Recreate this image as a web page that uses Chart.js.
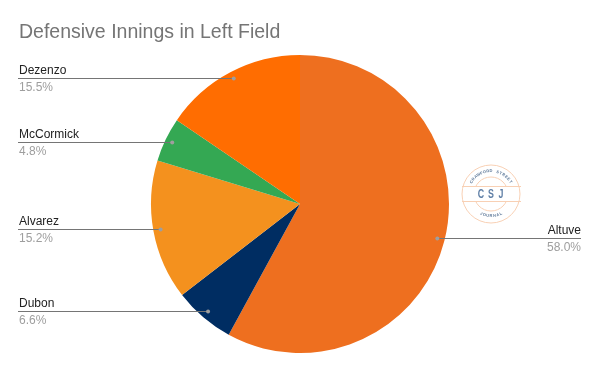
<!DOCTYPE html>
<html>
<head>
<meta charset="utf-8">
<script src="https://cdn.jsdelivr.net/npm/chart.js@4"></script>
<style>
  html, body { margin: 0; padding: 0; background: #fff; }
  canvas { display: block; }
</style>
</head>
<body>
<canvas id="pie" width="600" height="371"></canvas>
<script>
const players = ['Altuve', 'Dubon', 'Alvarez', 'McCormick', 'Dezenzo'];
const innings = [58.0, 6.6, 15.2, 4.8, 15.5];
const colors = ['#ee6f1f', '#002d62', '#f4911e', '#34a853', '#ff6d01'];
const chartTitle = 'Defensive Innings in Left Field';
const FONT = '"Liberation Sans", Arial, sans-serif';

// leader lines + labels, hung off the arcs
const leaderLabels = {
  id: 'leaderLabels',
  afterDatasetsDraw(chart) {
    const ctx = chart.ctx;
    ctx.save();
    ctx.fillStyle = '#757575';
    ctx.font = '19.5px ' + FONT;
    ctx.textAlign = 'left';
    ctx.textBaseline = 'alphabetic';
    ctx.fillText(chartTitle, 19, 38);

    chart.getDatasetMeta(0).data.forEach((arc, i) => {
      const mid = (arc.startAngle + arc.endAngle) / 2;
      const r = arc.outerRadius * 0.951;
      const px = arc.x + Math.cos(mid) * r;
      const row = Math.floor(arc.y - 0.5 + Math.sin(mid) * r + 0.4);
      const py = row + 0.5;
      const right = Math.cos(mid) > 0;
      const edge = right ? 581 : 18;

      ctx.strokeStyle = '#757575';
      ctx.lineWidth = 1;
      ctx.beginPath();
      ctx.moveTo(edge, py);
      ctx.lineTo(px, py);
      ctx.stroke();

      ctx.fillStyle = '#9e9e9e';
      ctx.beginPath();
      ctx.arc(px, py, 2, 0, Math.PI * 2);
      ctx.fill();

      ctx.textAlign = right ? 'right' : 'left';
      ctx.font = '12px ' + FONT;
      ctx.fillStyle = '#222222';
      ctx.fillText(players[i], right ? edge : edge + 1, row - 4);
      ctx.fillStyle = '#9e9e9e';
      ctx.fillText(innings[i].toFixed(1) + '%', right ? edge : edge + 1, row + 13);
    });
    ctx.restore();
  }
};

// CSJ stamp to the right of the pie
const stamp = {
  id: 'stamp',
  afterDraw(chart) {
    const ctx = chart.ctx;
    const cx = 491, cy = 194;
    ctx.save();
    ctx.strokeStyle = '#f8d0b4';
    ctx.lineWidth = 1;
    // inner ring first, the band covers its middle
    ctx.beginPath();
    ctx.arc(cx, cy, 17, 0, Math.PI * 2);
    ctx.stroke();
    ctx.fillStyle = '#ffffff';
    ctx.fillRect(cx - 28, cy - 8, 56, 16);
    ctx.beginPath();
    ctx.arc(cx, cy, 29, 0, Math.PI * 2);
    ctx.moveTo(cx - 29, cy - 7.5); ctx.lineTo(cx + 30, cy - 7.5);
    ctx.moveTo(cx - 29, cy + 7.5); ctx.lineTo(cx + 30, cy + 7.5);
    ctx.stroke();

    ctx.fillStyle = '#5f7fa6';
    ctx.textAlign = 'center';
    ctx.textBaseline = 'middle';
    ctx.font = 'bold 13px ' + FONT;
    ['C', 'S', 'J'].forEach((c, i) => {
      ctx.save();
      ctx.translate(cx + (i - 1) * 10, cy + 0.5);
      ctx.scale(0.68, 1);
      ctx.fillText(c, 0, 0);
      ctx.restore();
    });

    ctx.fillStyle = '#5f7a9a';
    ctx.font = 'bold 4px ' + FONT;
    const top = 'CRAWFORD STREET';
    [...top].forEach((c, i) => {
      const a = (i - (top.length - 1) / 2) * 0.145;
      ctx.save();
      ctx.translate(cx + Math.sin(a) * 23, cy - Math.cos(a) * 23);
      ctx.rotate(a);
      ctx.fillText(c, 0, 0);
      ctx.restore();
    });
    const bottom = 'JOURNAL';
    [...bottom].forEach((c, i) => {
      const a = (i - (bottom.length - 1) / 2) * 0.155;
      ctx.save();
      ctx.translate(cx + Math.sin(a) * 22, cy + Math.cos(a) * 22);
      ctx.rotate(-a);
      ctx.fillText(c, 0, 0);
      ctx.restore();
    });
    ctx.restore();
  }
};

new Chart(document.getElementById('pie').getContext('2d'), {
  type: 'pie',
  data: {
    labels: players,
    datasets: [{
      data: innings,
      backgroundColor: colors,
      borderWidth: 0
    }]
  },
  options: {
    responsive: false,
    animation: false,
    layout: { padding: { top: 55, bottom: 18, left: 0, right: 0 } },
    plugins: {
      legend: { display: false },
      tooltip: { enabled: false },
      title: { display: false }
    }
  },
  plugins: [leaderLabels, stamp]
});
</script>
</body>
</html>
